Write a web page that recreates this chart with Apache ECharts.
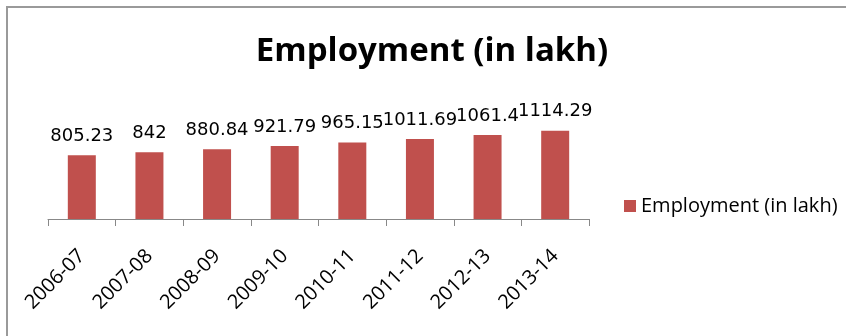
<!DOCTYPE html>
<html>
<head>
<meta charset="utf-8">
<script src="https://cdn.jsdelivr.net/npm/echarts@6/dist/echarts.min.js"></script>
<style>
html,body{margin:0;padding:0;background:#fff;}
#chart{width:846px;height:336px;}
</style>
</head>
<body>
<div id="chart"></div>
<script>
var categories = ['2006-07','2007-08','2008-09','2009-10','2010-11','2011-12','2012-13','2013-14'];
var employment = [805.23, 842, 880.84, 921.79, 965.15, 1011.69, 1061.4, 1114.29];
var seriesName = 'Employment (in lakh)';
var chartTitle = 'Employment (in lakh)';

var chart = echarts.init(document.getElementById('chart'), null, {renderer:'canvas'});
chart.setOption({
  backgroundColor:'#fff',
  animation:false,
  title:{
    text: chartTitle,
    left: 432, textAlign:'center',
    top: 35, padding:0,
    textStyle:{fontFamily:'Open Sans', fontWeight:'bold', fontSize:33, color:'#000'}
  },
  legend:{
    data:[seriesName],
    left: 624, top: 196, padding:0,
    itemWidth:12, itemHeight:12, itemGap:10,
    icon:'rect',
    textStyle:{fontFamily:'Open Sans', fontSize:20, color:'#000', padding:[0,0,0,0]}
  },
  grid:{left:48, right:257, top:124, bottom:117, containLabel:false},
  xAxis:{
    type:'category',
    data:categories,
    boundaryGap:true,
    axisLine:{lineStyle:{color:'#888', width:1}},
    axisTick:{show:true, length:7, alignWithLabel:false, lineStyle:{color:'#888'}},
    axisLabel:{rotate:45, margin:34, interval:0, fontFamily:'Open Sans', fontSize:20, color:'#000'}
  },
  yAxis:{
    type:'value', min:0, max:1200,
    show:false,
    splitLine:{show:false}
  },
  graphic:[{
    type:'rect', silent:true,
    shape:{x:7, y:7, width:900, height:400},
    style:{fill:'none', stroke:'#9a9a9a', lineWidth:2}
  }],
  series:[{
    name:seriesName,
    type:'bar',
    data:employment,
    barWidth:28,
    itemStyle:{color:'#C0504D'},
    label:{show:true, position:'top', distance:10, fontFamily:'DejaVu Sans', fontSize:18, color:'#000'}
  }]
});
</script>
</body>
</html>
